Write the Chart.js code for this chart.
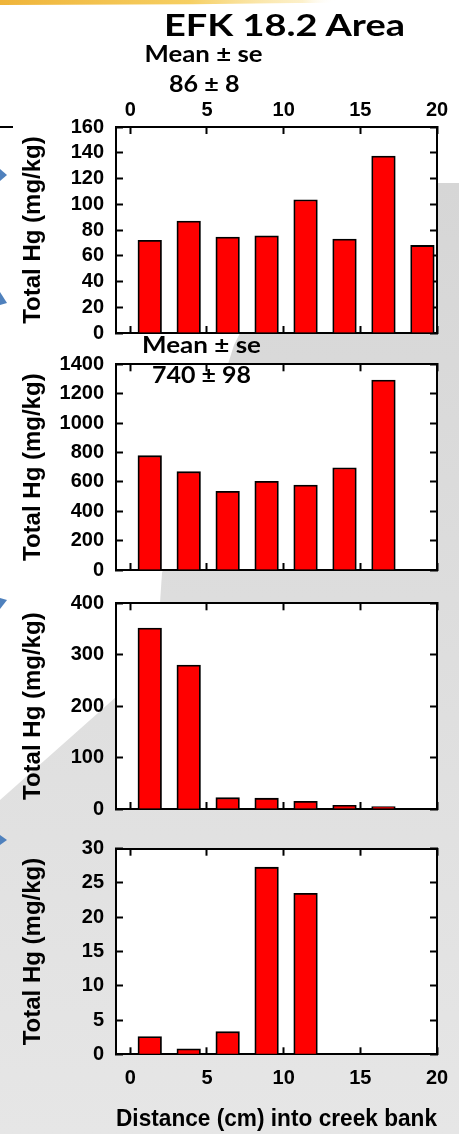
<!DOCTYPE html>
<html>
<head>
<meta charset="utf-8">
<title>EFK 18.2 Area</title>
<script src="https://cdn.jsdelivr.net/npm/chart.js@4.4.1/dist/chart.umd.min.js"></script>
<style>
  html, body { margin: 0; padding: 0; background: #fff; }
  #page { position: relative; width: 459px; height: 1134px; overflow: hidden; background: #fff; }
  #bg, #notes { position: absolute; left: 0; top: 0; }
  #notes { pointer-events: none; }
  canvas.panel { position: absolute; left: 0; }
</style>
</head>
<body>
<div id="page">
  <svg id="bg" width="459" height="1134" viewBox="0 0 459 1134">
    <defs>
      <linearGradient id="band" x1="0" y1="0" x2="1" y2="0">
        <stop offset="0" stop-color="#efb43a"/>
        <stop offset="0.45" stop-color="#f6cf62"/>
        <stop offset="0.72" stop-color="#fbe7a8" stop-opacity="0.6"/>
        <stop offset="0.8" stop-color="#ffffff" stop-opacity="0"/>
      </linearGradient>
      <linearGradient id="shade" x1="0" y1="0" x2="0" y2="1">
        <stop offset="0" stop-color="#d6d6d6"/>
        <stop offset="1" stop-color="#e6e6e6"/>
      </linearGradient>
    </defs>
    <path d="M0 0 H420 V1 Q220 5 0 5 Z" fill="url(#band)"/>
    <polygon points="438,183 459,183 459,1134 0,1134 0,800 116,697 160,603 162,573 234,345 240,333" fill="url(#shade)"/>
    <g fill="#4f81bd">
      <polygon points="0,169 7,175 0,181"/>
      <polygon points="0,292 7,303 0,305"/>
      <polygon points="0,598 7,600 0,609"/>
      <polygon points="0,835 7,840 0,845"/>
    </g>
    <line x1="0" y1="127" x2="13" y2="127" stroke="#000" stroke-width="2"/>
  </svg>
  <svg id="notes" width="459" height="1134" viewBox="0 0 459 1134"></svg>
</div>
<script>
// Total mercury in creek-bank cores, one bar per 2.54 cm (1 in) interval midpoint
const distanceCm = [1.27, 3.81, 6.35, 8.89, 11.43, 13.97, 16.51, 19.05];
const hgTop    = [72, 87, 74.5, 75.5, 103.5, 73, 137.5, 68];
const hgSecond = [778, 669, 535, 603, 578, 696, 1293];
const hgThird  = [352, 280, 22, 21, 15, 7, 4.5];
const hgBottom = [2.6, 0.8, 3.3, 27.3, 23.5];

const xTickValues    = [0, 5, 10, 15, 20];
const yTicksTop      = [0, 20, 40, 60, 80, 100, 120, 140, 160];
const yTicksSecond   = [0, 200, 400, 600, 800, 1000, 1200, 1400];
const yTicksThird    = [0, 100, 200, 300, 400];
const yTicksBottom   = [0, 5, 10, 15, 20, 25, 30];

const chartTitle = 'EFK 18.2 Area';
const statHeader = 'Mean ± se';
const statTop    = '86 ± 8';
const statSecond = '740 ± 98';
const yAxisTitle = 'Total Hg (mg/kg)';
const xAxisTitle = 'Distance (cm) into creek bank';

const X_MIN = -0.93, X_MAX = 20;
const PAGE_W = 459, LEFT_W = 116, RIGHT_W = 22;
const ARIAL = "'Liberation Sans', Arial, sans-serif";
const tickFont  = { family: ARIAL, size: 20, weight: 'bold' };
const titleFont = { family: ARIAL, size: 24, weight: 'bold', lineHeight: 1.2 };

const axisBorder = { display: true, width: 2, color: '#000' };
const inwardTicks = {
  display: true, drawOnChartArea: false, drawTicks: true,
  tickLength: -7, tickWidth: 2, tickColor: '#000', offset: false
};

const plotBackground = {
  id: 'plotBackground',
  beforeDraw(chart) {
    const { ctx, chartArea: a } = chart;
    ctx.save();
    ctx.fillStyle = '#fff';
    ctx.fillRect(a.left, a.top, a.right - a.left, a.bottom - a.top);
    ctx.restore();
  }
};

function fixedTicks(values) {
  return scale => { scale.ticks = values.map(v => ({ value: v })); };
}
// pin an axis box to an exact size so every plot frame lands where it should
function pinSize(prop, size) {
  return scale => {
    scale[prop] = size;
    scale.paddingLeft = scale.paddingRight = scale.paddingTop = scale.paddingBottom = 0;
  };
}
const plainNumber = v => String(v);

const panels = [
  { values: hgTop,    yTicks: yTicksTop,    canvasTop: 90,  plotTop: 127,   plotBottom: 333,    topLabels: true },
  { values: hgSecond, yTicks: yTicksSecond, canvasTop: 346, plotTop: 364.3, plotBottom: 570 },
  { values: hgThird,  yTicks: yTicksThird,  canvasTop: 585, plotTop: 603.3, plotBottom: 809 },
  { values: hgBottom, yTicks: yTicksBottom, canvasTop: 830, plotTop: 848.7, plotBottom: 1054.3, bottomLabels: true, canvasBottom: 1134 }
];

const page = document.getElementById('page');
const notes = document.getElementById('notes');

panels.forEach(p => {
  const canvasBottom = p.canvasBottom || Math.round(p.plotBottom + 18);
  const h = canvasBottom - p.canvasTop;
  const topH = p.plotTop - p.canvasTop;
  const bottomH = h - (p.plotBottom - p.canvasTop);
  const yMax = p.yTicks[p.yTicks.length - 1];

  const canvas = document.createElement('canvas');
  canvas.className = 'panel';
  canvas.width = PAGE_W;
  canvas.height = h;
  canvas.style.top = p.canvasTop + 'px';
  page.insertBefore(canvas, notes);

  new Chart(canvas, {
    type: 'bar',
    data: {
      datasets: [{
        data: p.values.map((v, i) => ({ x: distanceCm[i], y: v })),
        backgroundColor: '#ff0000',
        borderColor: '#000',
        borderWidth: 1.8,
        barThickness: 23.6
      }]
    },
    options: {
      responsive: false,
      animation: false,
      devicePixelRatio: 1,
      layout: { padding: 0 },
      plugins: { legend: { display: false }, tooltip: { enabled: false } },
      scales: {
        x: {
          type: 'linear', position: 'bottom', min: X_MIN, max: X_MAX, offset: false, z: 1,
          grid: inwardTicks, border: axisBorder,
          afterBuildTicks: fixedTicks(xTickValues),
          afterFit: pinSize('height', bottomH),
          ticks: { display: !!p.bottomLabels, padding: 19, color: '#000', font: tickFont, maxRotation: 0, autoSkip: false, callback: plainNumber },
          title: { display: !!p.bottomLabels, text: xAxisTitle, color: '#000', font: titleFont, padding: { top: 0, bottom: 0 } }
        },
        xTop: {
          type: 'linear', position: 'top', min: X_MIN, max: X_MAX, offset: false, z: 1,
          grid: inwardTicks, border: axisBorder,
          afterBuildTicks: fixedTicks(xTickValues),
          afterFit: pinSize('height', topH),
          ticks: { display: !!p.topLabels, padding: 11.5, color: '#000', font: tickFont, maxRotation: 0, autoSkip: false, callback: plainNumber }
        },
        y: {
          type: 'linear', position: 'left', min: 0, max: yMax, z: 1,
          grid: inwardTicks, border: axisBorder,
          afterBuildTicks: fixedTicks(p.yTicks),
          afterFit: pinSize('width', LEFT_W),
          ticks: { padding: 19, color: '#000', font: tickFont, autoSkip: false, callback: plainNumber },
          title: { display: true, text: yAxisTitle, color: '#000', font: titleFont, padding: { top: 19, bottom: 0 } }
        },
        yRight: {
          type: 'linear', position: 'right', min: 0, max: yMax, z: 1,
          grid: inwardTicks, border: axisBorder,
          afterBuildTicks: fixedTicks(p.yTicks),
          afterFit: pinSize('width', RIGHT_W),
          ticks: { display: false }
        }
      }
    },
    plugins: [plotBackground]
  });
});

// Heading and summary statistics
const SVGNS = 'http://www.w3.org/2000/svg';
function addNote(text, x, baseline, size, width) {
  const t = document.createElementNS(SVGNS, 'text');
  t.setAttribute('x', x);
  t.setAttribute('y', baseline);
  t.setAttribute('font-family', 'Lato, "Open Sans", sans-serif');
  t.setAttribute('font-weight', '700');
  t.setAttribute('font-size', size);
  t.setAttribute('fill', '#000');
  t.setAttribute('textLength', width);
  t.setAttribute('lengthAdjust', 'spacingAndGlyphs');
  t.textContent = text;
  notes.appendChild(t);
}
addNote(chartTitle, 164, 35.5, 31, 241);
addNote(statHeader, 144.5, 62.3, 23.5, 118);
addNote(statTop, 169, 92.3, 22, 70.5);
addNote(statHeader, 142, 353.3, 23.5, 119);
addNote(statSecond, 152, 383.3, 22, 99);
</script>
</body>
</html>
